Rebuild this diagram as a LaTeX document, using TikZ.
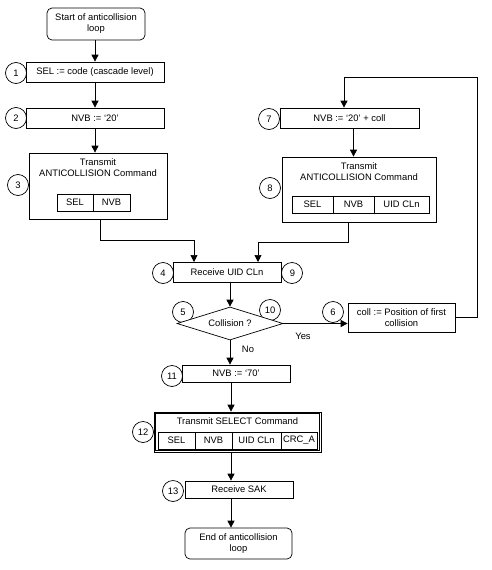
\documentclass[tikz,border=0pt]{standalone}
\usepackage{fontspec}
\setmainfont{Liberation Sans}
\usetikzlibrary{shapes.geometric,arrows.meta}
\begin{document}
\begin{tikzpicture}[x=1pt,y=-1pt,
  every node/.style={font=\fontsize{9.4}{11}\selectfont},
  line/.style={draw=black, line width=0.7pt},
  box/.style={line, fill=white, rectangle, inner sep=0pt, align=center},
  rbox/.style={box, rounded corners=5pt},
  cell/.style={line, rectangle, inner sep=0pt, minimum height=17pt},
  numc/.style={line, circle, fill=white, inner sep=0pt, minimum size=21pt},
  plain/.style={inner sep=0pt, align=center},
  arr/.style={line, -{Triangle[length=7pt,width=7pt]}}]
\useasboundingbox (0,0) rectangle (491,570);

% number circles (drawn first, partly hidden by boxes)
\node[numc] (c1) at (16,73) {1\hspace{4pt}};
\node[numc] (c2) at (16,118) {2\hspace{4pt}};
\node[numc] (c3) at (18,185) {3\hspace{4pt}};
\node[numc] (c4) at (163,273) {4\hspace{4pt}};
\node[numc] (c9) at (292,273) {\hspace{1pt}9\hspace{5pt}};
\node[numc] (c5) at (183,312) {5\hspace{4pt}};
\node[numc] (c10) at (270,310) {10};
\node[numc] (c6) at (333,312) {6\hspace{4pt}};
\node[numc] (c7) at (269,119) {7\hspace{4pt}};
\node[numc] (c8) at (270,188) {8\hspace{4pt}};
\node[numc] (c11) at (172,376) {11\hspace{2pt}};
\node[numc] (c12) at (143,432) {12\hspace{2pt}};
\node[numc] (c13) at (173,491) {13\hspace{2pt}};

% left column
\node[rbox, minimum width=98pt, minimum height=32pt] (start) at (96,24) {Start of anticollision\\loop};
\node[box, minimum width=138pt, minimum height=20pt] (b1) at (95,72) {SEL := code (cascade level)};
\node[box, minimum width=138pt, minimum height=20pt] (b2) at (95,118) {NVB := ‘20’};
\node[box, minimum width=138pt, minimum height=66pt] (b3) at (98,186) {};
\node[plain] (t3) at (98,168) {Transmit\\ANTICOLLISION Command};
\node[cell, minimum width=36pt] (s3a) at (75,202.5) {SEL};
\node[cell, minimum width=37pt] (s3b) at (111.5,202.5) {NVB};

% right column
\node[box, minimum width=139pt, minimum height=20pt] (b7) at (349.5,118) {NVB := ‘20’ + coll};
\node[box, minimum width=154pt, minimum height=65pt] (b8) at (359,189.5) {};
\node[plain] (t8) at (359,171.5) {Transmit\\ANTICOLLISION Command};
\node[cell, minimum width=41pt] (s8a) at (312.5,204.5) {SEL};
\node[cell, minimum width=41pt] (s8b) at (353.5,204.5) {NVB};
\node[cell, minimum width=55pt] (s8c) at (401.5,204.5) {UID CLn};

% middle
\node[box, minimum width=108pt, minimum height=20pt] (b4) at (227,272) {Receive UID CLn};
\node[line, fill=white, diamond, inner sep=0pt, aspect=3.2, minimum width=106pt, minimum height=33pt] (dia) at (230,323.5) {Collision ?};
\node[box, minimum width=107pt, minimum height=29pt] (b6) at (401.5,317.5) {coll := Position of first\\collision};
\node[box, minimum width=108pt, minimum height=17pt] (b11) at (236,373.5) {NVB := ‘70’};
\node[box, minimum width=167pt, minimum height=40pt] (b12) at (237.5,432) {};
\draw[line] ([xshift=2pt,yshift=-2pt]b12.north west) rectangle ([xshift=-2pt,yshift=2pt]b12.south east);
\node[plain] (t12) at (237.5,421) {Transmit SELECT Command};
\node[cell, minimum width=37pt] (s12a) at (176.5,440.5) {SEL};
\node[cell, minimum width=37pt] (s12b) at (213.5,440.5) {NVB};
\node[cell, minimum width=49pt] (s12c) at (256.5,440.5) {UID CLn};
\node[cell, minimum width=36pt] (s12d) at (299,440.5) {CRC\_A};
\node[box, minimum width=108pt, minimum height=17pt] (b13) at (239,489.5) {Receive SAK};
\node[rbox, minimum width=107pt, minimum height=31pt] (end) at (238.5,543.5) {End of anticollision\\loop};

\node[plain] (yes) at (303,336) {Yes};
\node[plain] (no) at (248,349) {No};

% helper coordinates
\coordinate (m1) at (100,240);
\coordinate (in4a) at (194,262);
\coordinate (m2) at (348,242);
\coordinate (in4b) at (258,262);
\coordinate (rc) at (477,77);
\coordinate (lc) at (344,77);
\coordinate (col) at (231,400);

% connectors
\draw[arr] (start.south -| b1.north) -- (b1.north);
\draw[arr] (b1.south) -- (b2.north);
\draw[arr] (b2.south) -- (b2.south |- b3.north);
\draw[arr] (b3.south -| m1) -- (m1) -| (in4a);
\draw[arr] (b7.south -| s8b.north) -- (b8.north -| s8b.north);
\draw[arr] (b8.south -| m2) -- (m2) -| (in4b);
\draw[arr] (b4.south -| dia.north) -- (dia.north);
\draw[arr] (dia.east) -- (b6.west |- dia.east);
\draw[arr] (b6.east) -| (rc) -- (lc) -- (b7.north -| lc);
\draw[arr] (dia.south) -- (b11.north -| dia.south);
\draw[arr] (b11.south -| col) -- (b12.north -| col);
\draw[arr] (b12.south -| col) -- (b13.north -| col);
\draw[arr] (b13.south -| col) -- (end.north -| col);
\end{tikzpicture}
\end{document}
